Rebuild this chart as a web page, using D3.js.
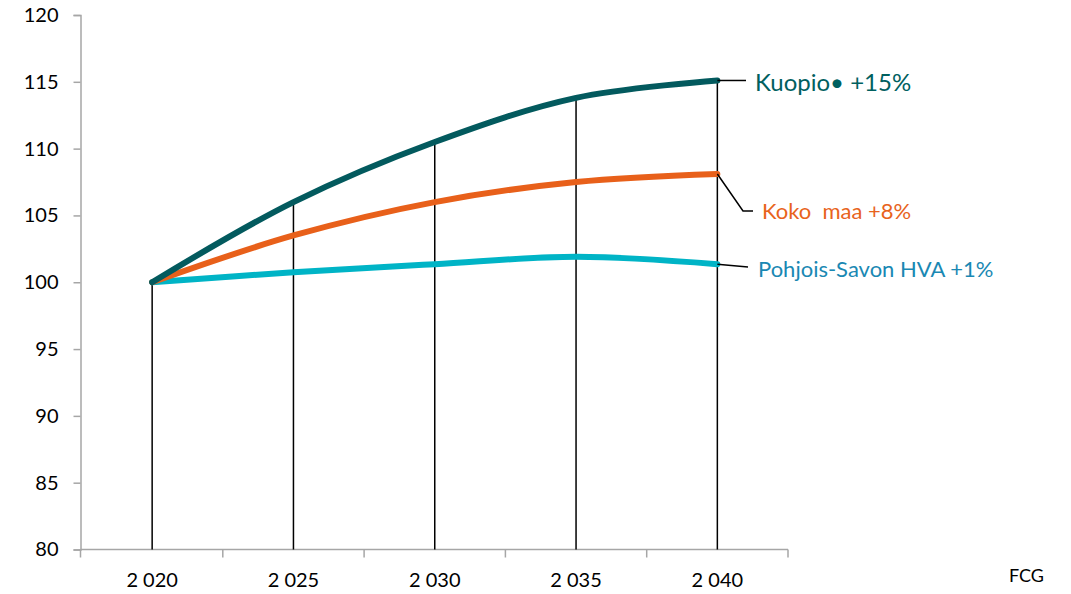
<!DOCTYPE html>
<html><head><meta charset="utf-8">
<script src="https://cdn.jsdelivr.net/npm/d3@7"></script>
<style>body{margin:0;background:#fff}svg{display:block}</style>
</head><body>
<script>
const years = ["2 020","2 025","2 030","2 035","2 040"];
const kuopio = [100, 106.0, 110.5, 113.8, 115.1];
const kokoMaa = [100, 103.5, 106.0, 107.5, 108.1];
const pohjoisSavo = [100, 100.75, 101.35, 101.9, 101.35];
const yTicks = [80,85,90,95,100,105,110,115,120];
const seriesNames = ["Kuopio• +15%","Koko  maa +8%","Pohjois-Savon HVA +1%"];

const W=1071,H=594;
const svg=d3.select("body").append("svg").attr("width",W).attr("height",H);
const font="Lato, 'Open Sans', sans-serif";
const x=d3.scaleBand().domain(years).range([81.5,788]);
const y=d3.scaleLinear().domain([80,120]).range([549.5,15]);
const cx=d=>x(d)+x.bandwidth()/2;

// y axis
const ya=svg.append("g").attr("transform","translate(80.5,0)")
  .call(d3.axisLeft(y).tickValues(yTicks).tickSize(7).tickPadding(15));
ya.select(".domain").attr("stroke","#a6a6a6").attr("stroke-width",1.5);
ya.selectAll(".tick line").attr("stroke","#a6a6a6").attr("stroke-width",1.5);
ya.selectAll("text").attr("font-family",font).attr("font-size",20).attr("fill","#000");

// x axis
const xa=svg.append("g").attr("transform","translate(0,549.5)")
  .call(d3.axisBottom(x).tickSize(0).tickPadding(23));
xa.select(".domain").attr("stroke","#a6a6a6").attr("stroke-width",1.5)
  .attr("d",`M80.5,0H${x.range()[1]}`);
xa.selectAll("text").attr("font-family",font).attr("font-size",20).attr("fill","#000");
const bounds=[80.5].concat(years.slice(1).map(d=>x(d))).concat([x.range()[1]]);
xa.selectAll(".sep").data(bounds).enter().append("line")
  .attr("x1",d=>d).attr("x2",d=>d).attr("y1",0).attr("y2",8)
  .attr("stroke","#a6a6a6").attr("stroke-width",1.5);

// drop lines
svg.append("g").selectAll("line").data(years).enter().append("line")
  .attr("x1",cx).attr("x2",cx)
  .attr("y1",(d,i)=>y(Math.max(kuopio[i],kokoMaa[i],pohjoisSavo[i])))
  .attr("y2",y(80)).attr("stroke","#000").attr("stroke-width",1.5);

const line=d3.line().x((d,i)=>cx(years[i])).y(d=>y(d)).curve(d3.curveCatmullRom.alpha(0.5));
const series=[
  {v:pohjoisSavo,c:"#00b4c6"},
  {v:kokoMaa,c:"#e8601a"},
  {v:kuopio,c:"#035a5e"}
];
series.forEach(s=>{
  svg.append("path").attr("d",line(s.v)).attr("fill","none")
    .attr("stroke",s.c).attr("stroke-width",6).attr("stroke-linecap","round");
});

// leader lines & labels
const lx=cx(years[4]);
const g=svg.append("g").attr("fill","none").attr("stroke","#000").attr("stroke-width",1.5);
g.append("path").attr("d",`M${lx},${y(kuopio[4])}H746`);
g.append("path").attr("d",`M${lx},${y(kokoMaa[4])}L743,211H753`);
g.append("path").attr("d",`M${lx},${y(pohjoisSavo[4])}L748,267`);

svg.append("text").attr("x",755).attr("y",91).text(seriesNames[0])
  .attr("font-family",font).attr("font-size",24).attr("fill","#00605f");
svg.append("text").attr("x",762).attr("y",219).text(seriesNames[1])
  .attr("font-family",font).attr("font-size",22).attr("fill","#e8631c").style("white-space","pre");
svg.append("text").attr("x",758).attr("y",277).text(seriesNames[2])
  .attr("font-family",font).attr("font-size",22).attr("fill","#1a88b3");

svg.append("text").attr("x",1009).attr("y",582).text("FCG")
  .attr("font-family",font).attr("font-size",18).attr("fill","#000");
</script>
</body></html>
